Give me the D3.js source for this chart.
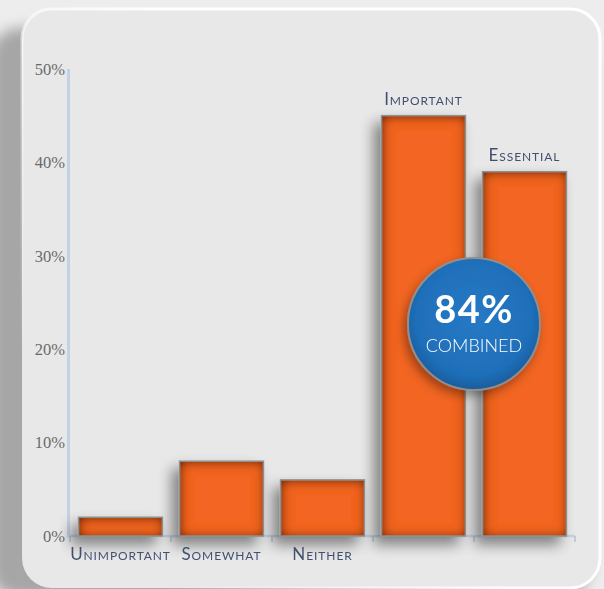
<!DOCTYPE html>
<html>
<head>
<meta charset="utf-8">
<script src="https://cdn.jsdelivr.net/npm/d3@7"></script>
<style>
  html, body { margin: 0; padding: 0; background: #ececec; }
  svg { display: block; }
</style>
</head>
<body>
<svg id="chart" width="604" height="589"></svg>
<script>
// Chart data
const categories = ["Unimportant", "Somewhat", "Neither", "Important", "Essential"];
const values = [2, 8, 6, 45, 39];          // percent
const yTicks = [0, 10, 20, 30, 40, 50];
const labelsOnTop = ["Important", "Essential"];
const combinedText = "84%";
const combinedCaption = "COMBINED";
const combinedAt = 22.7;                   // percent level of the callout centre

const width = 604, height = 589;
const margin = {top: 69, left: 70, right: 29, bottom: 53};

const svg = d3.select('#chart');
const defs = svg.append('defs');

// card shadow
const cs = defs.append('filter').attr('id', 'cardShadow')
  .attr('x', '-20%').attr('y', '-20%').attr('width', '140%').attr('height', '140%');
cs.append('feGaussianBlur').attr('stdDeviation', 7);

// card rim gradient (white top-right -> fades bottom-left)
const rim = defs.append('linearGradient').attr('id', 'rim')
  .attr('x1', '1').attr('y1', '0').attr('x2', '0').attr('y2', '0.6');
rim.append('stop').attr('offset', '0').attr('stop-color', '#ffffff');
rim.append('stop').attr('offset', '0.55').attr('stop-color', '#ffffff');
rim.append('stop').attr('offset', '1').attr('stop-color', '#ffffff').attr('stop-opacity', 0);

// bar drop shadow
const ds = defs.append('filter').attr('id', 'barShadow')
  .attr('x', '-40%').attr('y', '-20%').attr('width', '180%').attr('height', '150%');
ds.append('feGaussianBlur').attr('in', 'SourceAlpha').attr('stdDeviation', 7).attr('result', 'b');
ds.append('feOffset').attr('in', 'b').attr('dx', -7).attr('dy', 8).attr('result', 'o');
ds.append('feComponentTransfer').attr('in', 'o').attr('result', 'oa')
  .append('feFuncA').attr('type', 'linear').attr('slope', 0.45);
const dm = ds.append('feMerge');
dm.append('feMergeNode').attr('in', 'oa');
dm.append('feMergeNode').attr('in', 'SourceGraphic');

// inner glow for bars
const ig = defs.append('filter').attr('id', 'inner');
ig.append('feGaussianBlur').attr('in', 'SourceAlpha').attr('stdDeviation', 6).attr('result', 'blur');
ig.append('feOffset').attr('in', 'blur').attr('dx', 1).attr('dy', 1).attr('result', 'blurO');
ig.append('feComposite').attr('in', 'SourceAlpha').attr('in2', 'blurO')
  .attr('operator', 'arithmetic').attr('k2', 1.3).attr('k3', -1.3).attr('result', 'edge');
ig.append('feFlood').attr('flood-color', '#7a2a0a').attr('flood-opacity', 1);
ig.append('feComposite').attr('in2', 'edge').attr('operator', 'in').attr('result', 'shade');
const im = ig.append('feMerge');
im.append('feMergeNode').attr('in', 'SourceGraphic');
im.append('feMergeNode').attr('in', 'shade');

// blue callout gradient
const bg = defs.append('radialGradient').attr('id', 'blue')
  .attr('cx', '0.5').attr('cy', '0.45').attr('r', '0.55');
bg.append('stop').attr('offset', '0').attr('stop-color', '#2679c6');
bg.append('stop').attr('offset', '0.8').attr('stop-color', '#1f6fb9');
bg.append('stop').attr('offset', '1').attr('stop-color', '#1a5c9c');

const cshadow = defs.append('filter').attr('id', 'circShadow')
  .attr('x', '-30%').attr('y', '-30%').attr('width', '160%').attr('height', '160%');
cshadow.append('feDropShadow').attr('dx', -3).attr('dy', 5).attr('stdDeviation', 5)
  .attr('flood-color', '#000').attr('flood-opacity', 0.35);

// background + card
svg.append('rect').attr('width', width).attr('height', height).attr('fill', '#ededed');
svg.append('rect')
  .attr('x', -10).attr('y', 28).attr('width', 600).attr('height', 570).attr('rx', 30)
  .attr('fill', '#a6a6a6').attr('filter', 'url(#cardShadow)');
svg.append('rect')
  .attr('x', 22).attr('y', 9).attr('width', 578).attr('height', 579).attr('rx', 30)
  .attr('fill', '#e8e8e8').attr('stroke', 'url(#rim)').attr('stroke-width', 3);

// scales
const x = d3.scaleBand()
  .domain(categories)
  .range([margin.left, width - margin.right])
  .paddingInner(0.17).paddingOuter(0.085);

const y = d3.scaleLinear()
  .domain([0, 50])
  .range([height - margin.bottom, margin.top]);

const step = x.step();
const gap = step * x.paddingInner();

// axes lines
const axisColor = '#c3d2e3';
svg.append('line')
  .attr('x1', margin.left - 1.5).attr('x2', margin.left - 1.5)
  .attr('y1', y(50)).attr('y2', y(0))
  .attr('stroke', axisColor).attr('stroke-width', 3);
svg.append('line')
  .attr('x1', margin.left - 3).attr('x2', width - margin.right)
  .attr('y1', y(0)).attr('y2', y(0))
  .attr('stroke', axisColor).attr('stroke-width', 2.5);

// category boundary ticks
const bounds = categories.map(c => x(c) - gap / 2).concat([x(categories[categories.length - 1]) + x.bandwidth() + gap / 2]);
svg.selectAll('.xtick').data(bounds).enter().append('line')
  .attr('class', 'xtick')
  .attr('x1', d => d).attr('x2', d => d)
  .attr('y1', y(0)).attr('y2', y(0) + 6)
  .attr('stroke', '#a9b8c9').attr('stroke-width', 1.2);

// y tick labels
svg.selectAll('.ylab').data(yTicks).enter().append('text')
  .attr('class', 'ylab')
  .attr('x', margin.left - 5).attr('y', d => y(d))
  .attr('dy', '0.35em')
  .attr('text-anchor', 'end')
  .attr('font-family', '"Liberation Serif", "DejaVu Serif", serif')
  .attr('font-size', 16.5)
  .attr('fill', '#6a6a6a')
  .text(d => d + '%');

// bars
const barG = svg.append('g').attr('filter', 'url(#barShadow)');
barG.selectAll('rect').data(categories).enter().append('rect')
  .attr('x', d => x(d))
  .attr('y', (d, i) => y(values[i]))
  .attr('width', x.bandwidth())
  .attr('height', (d, i) => y(0) - y(values[i]))
  .attr('fill', '#f26522')
  .attr('filter', 'url(#inner)');
barG.selectAll('rect.outline').data(categories).enter().append('rect')
  .attr('class', 'outline')
  .attr('x', d => x(d))
  .attr('y', (d, i) => y(values[i]))
  .attr('width', x.bandwidth())
  .attr('height', (d, i) => y(0) - y(values[i]))
  .attr('fill', 'none')
  .attr('stroke', '#8e8e8e').attr('stroke-width', 1.6);

// category labels
svg.selectAll('.clab').data(categories).enter().append('text')
  .attr('class', 'clab')
  .attr('x', d => x(d) + x.bandwidth() / 2)
  .attr('y', (d, i) => labelsOnTop.includes(d) ? y(values[i]) - 11 : y(0) + 24)
  .attr('text-anchor', 'middle')
  .attr('font-family', 'Lato, "Noto Sans", sans-serif')
  .attr('font-size', 17)
  .attr('font-variant', 'small-caps')
  .attr('letter-spacing', 0.9)
  .attr('fill', '#415071')
  .text(d => d);

// combined callout
const cx = x("Essential") - gap / 2;
const cy = y(combinedAt);
const callout = svg.append('g').attr('transform', `translate(${cx},${cy})`);
callout.append('circle')
  .attr('r', 66)
  .attr('fill', 'url(#blue)')
  .attr('stroke', '#8f8f8f').attr('stroke-width', 2)
  .attr('filter', 'url(#circShadow)');
callout.append('text')
  .attr('y', -1)
  .attr('text-anchor', 'middle')
  .attr('font-family', 'Lato, "Noto Sans", sans-serif')
  .attr('font-weight', 700)
  .attr('font-size', 38)
  .attr('letter-spacing', 1.5)
  .attr('fill', '#ffffff')
  .text(combinedText);
callout.append('text')
  .attr('y', 28)
  .attr('text-anchor', 'middle')
  .attr('font-family', 'Lato, "Noto Sans", sans-serif')
  .attr('font-weight', 300)
  .attr('font-size', 18)
  .attr('fill', '#ffffff')
  .text(combinedCaption);
</script>
</body>
</html>
